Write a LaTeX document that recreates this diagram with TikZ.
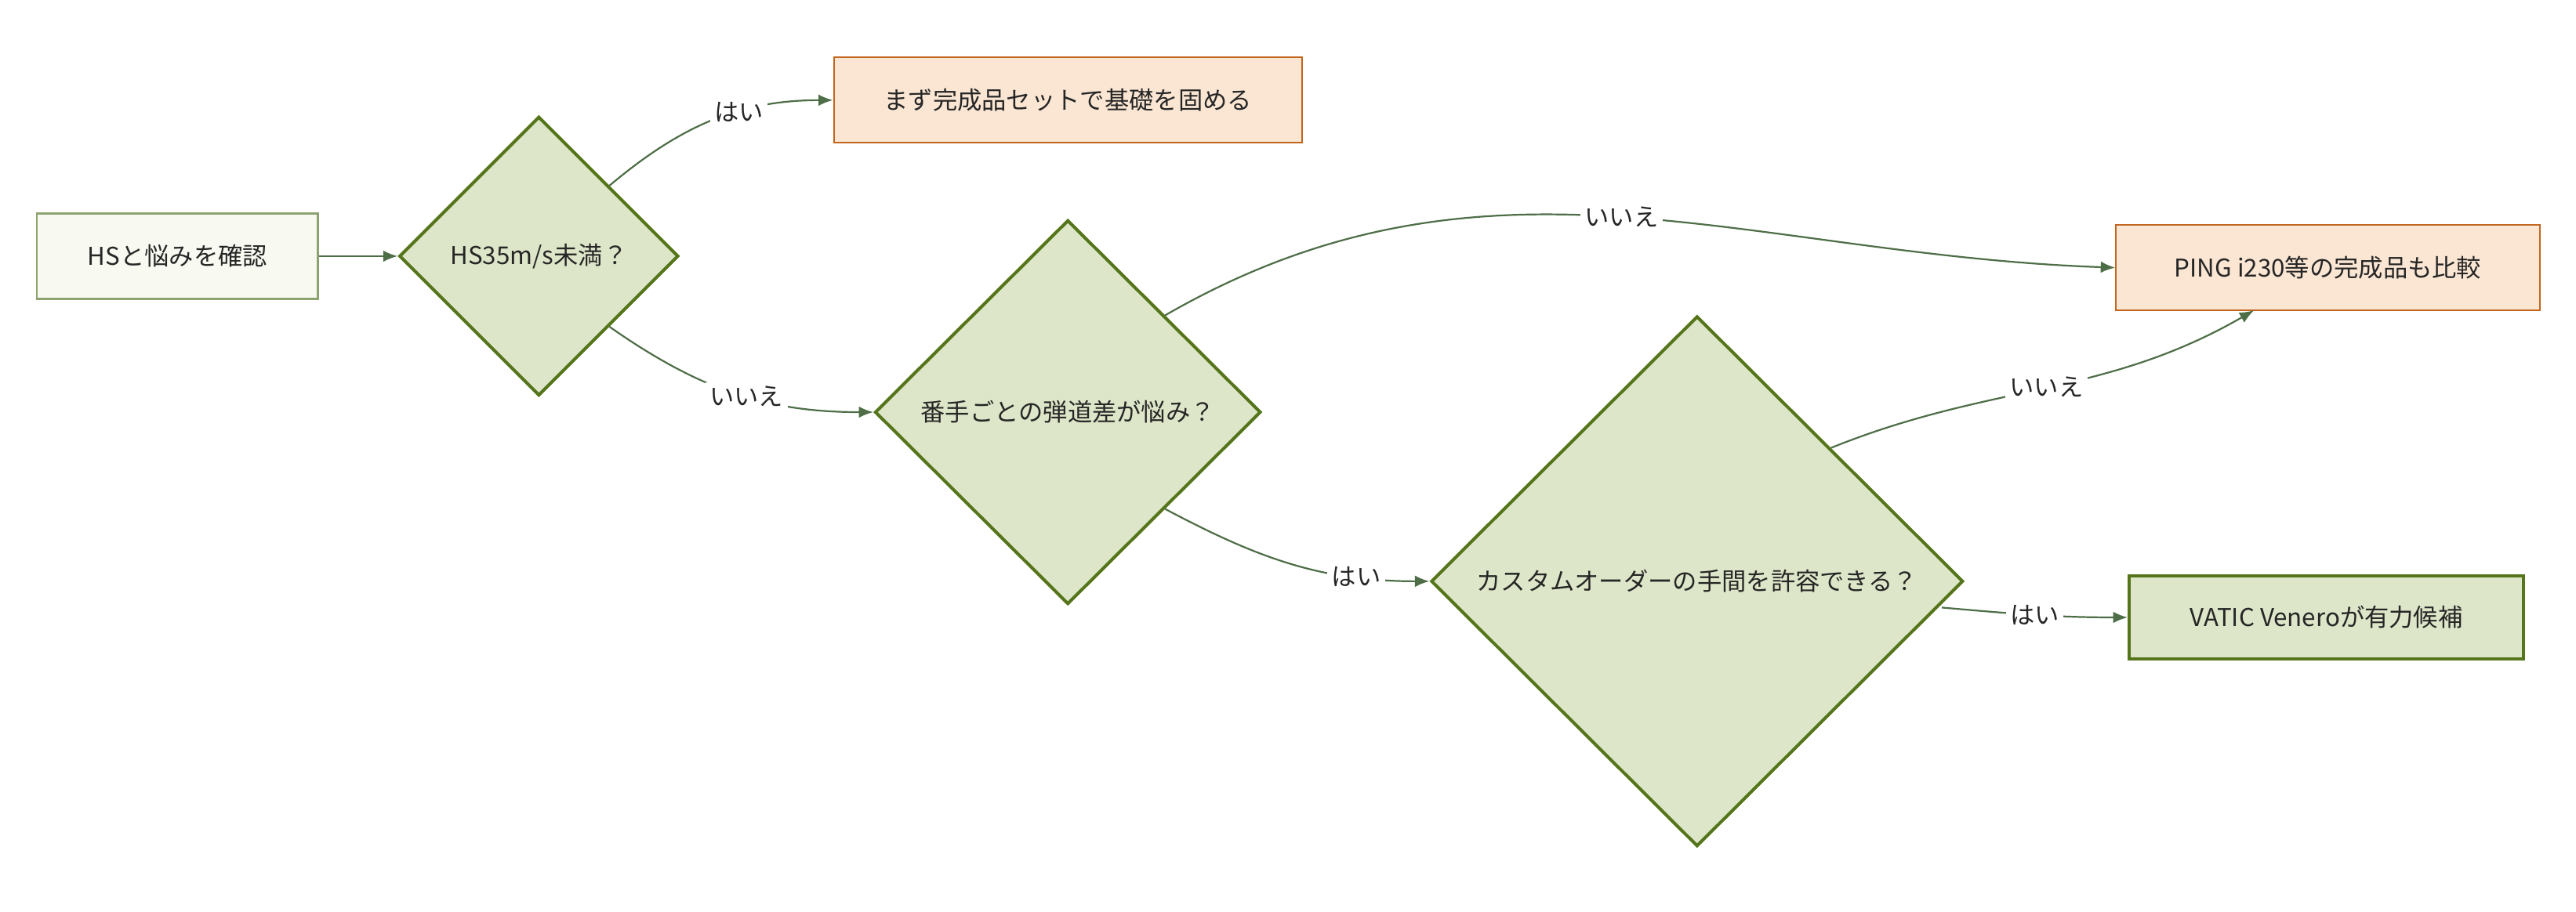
\documentclass[tikz,border=0pt]{standalone}
\usepackage{fontspec}
\setmainfont{Noto Sans CJK JP}
\usetikzlibrary{shapes.geometric,arrows.meta}
\definecolor{gfill}{HTML}{DDE6C8}
\definecolor{gline}{HTML}{55751B}
\definecolor{ofill}{HTML}{FAE6D3}
\definecolor{oline}{HTML}{C2661F}
\definecolor{sfill}{HTML}{F8F9F1}
\definecolor{sline}{HTML}{8DA36F}
\definecolor{eline}{HTML}{4E6E47}
\begin{document}
\begin{tikzpicture}[x=0.02cm,y=-0.02cm,font=\fontsize{8.5pt}{10pt}\selectfont,
  dia/.style={diamond,draw=gline,fill=gfill,line width=1.1pt,inner sep=0pt,text=black!85},
  obox/.style={draw=oline,fill=ofill,line width=0.6pt,minimum height=1.04cm,text=black!85},
  gbox/.style={draw=gline,fill=gfill,line width=1.1pt,minimum height=1.02cm,text=black!85},
  edge/.style={draw=eline,line width=0.6pt,-{Latex[length=5pt,width=4pt]}},
  lab/.style={fill=white,inner sep=1.5pt,text=black!85}]
\useasboundingbox (0,0) rectangle (1568,555);
\node[draw=sline,fill=sfill,line width=0.6pt,minimum width=3.42cm,minimum height=1.04cm,text=black!85] (hs) at (108,156) {HSと悩みを確認};
\node[dia,minimum width=3.4cm,minimum height=3.4cm] (d1) at (328,156) {HS35m/s未満？};
\node[obox,minimum width=5.7cm] (b1) at (650,61) {まず完成品セットで基礎を固める};
\node[dia,minimum width=4.7cm,minimum height=4.68cm] (d2) at (650,251) {番手ごとの弾道差が悩み？};
\node[obox,minimum width=5.16cm] (ping) at (1417,163) {PING i230等の完成品も比較};
\node[dia,minimum width=6.48cm,minimum height=6.46cm] (d3) at (1033,354) {カスタムオーダーの手間を許容できる？};
\node[gbox,minimum width=4.8cm] (vat) at (1416,376) {VATIC Veneroが有力候補};
\coordinate (pin) at (1372,189);
\draw[edge] (hs) -- (d1);
\draw[edge] (d1.north east) to[out=40,in=180] node[lab,pos=0.62]{はい} (b1.west);
\draw[edge] (d1.south east) to[out=-35,in=180] node[lab,pos=0.55]{いいえ} (d2.west);
\draw[edge] (d2.north east) to[out=30,in=178] node[lab,pos=0.5]{いいえ} (ping.west);
\draw[edge] (d2.south east) to[out=-28,in=180] node[lab,pos=0.75]{はい} (d3.west);
\draw[edge] (d3.north east) to[out=22,in=-150] node[lab,pos=0.5]{いいえ} (pin);
\draw[edge] (d3.east) ++(-14,16) coordinate (d3e) to[out=-5,in=180] node[lab,pos=0.5]{はい} (vat.west);
\end{tikzpicture}
\end{document}
